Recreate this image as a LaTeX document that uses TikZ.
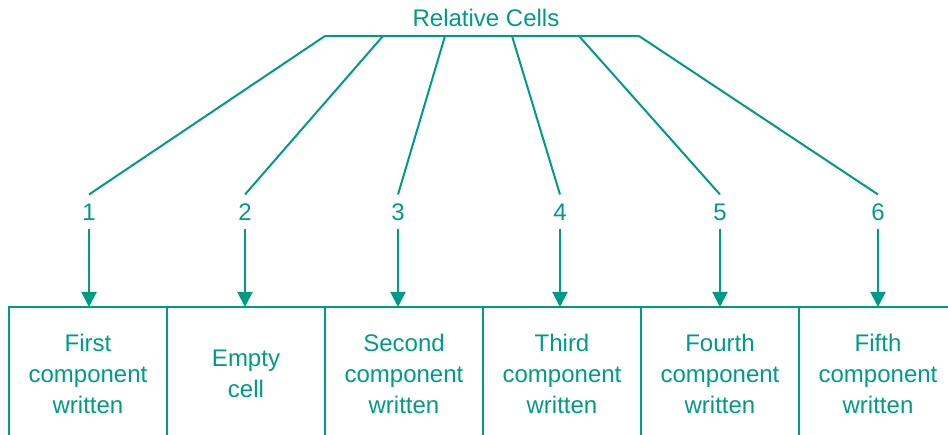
\documentclass[tikz,border=0pt]{standalone}
\usepackage{fontspec}
\setmainfont{Liberation Sans}
\usetikzlibrary{positioning,arrows.meta}
\definecolor{cellteal}{RGB}{0,155,133}
\begin{document}
\begin{tikzpicture}[x=1pt, y=1pt, node distance=0pt, cellteal, line width=2pt,
  cell/.style = {draw, line width=2.5pt, outer sep=0pt, minimum width=158pt, minimum height=134pt, align=center, font=\fontsize{24}{31}\selectfont},
  num/.style = {font=\fontsize{24}{29}\selectfont, inner sep=8pt, text height=17pt, text depth=0pt}]
\useasboundingbox (0,0) rectangle (948,435);
\clip (0,0) rectangle (948,435);
\node[cell] (c1) at (88,61) {First\\component\\written};
\node[cell] (c2) [right=of c1] {Empty\\cell};
\node[cell] (c3) [right=of c2] {Second\\component\\written};
\node[cell] (c4) [right=of c3] {Third\\component\\written};
\node[cell] (c5) [right=of c4] {Fourth\\component\\written};
\node[cell] (c6) [right=of c5] {Fifth\\component\\written};
\node[num] (title) at (486,417) {Relative Cells};
\node[num] (n1) at (89,223) {1};
\node[num] (n2) at (245,223) {2};
\node[num] (n3) at (398,223) {3};
\node[num] (n4) at (560,223) {4};
\node[num] (n5) at (720,223) {5};
\node[num] (n6) at (878,223) {6};
\coordinate (t1) at (325,399);
\coordinate (t2) at (383,399);
\coordinate (t3) at (445,399);
\coordinate (t4) at (512,399);
\coordinate (t5) at (579,399);
\coordinate (t6) at (639,399);
\draw (t1) -- (t6);
\draw (t1) -- (n1.north);
\draw (t2) -- (n2.north);
\draw (t3) -- (n3.north);
\draw (t4) -- (n4.north);
\draw (t5) -- (n5.north);
\draw (t6) -- (n6.north);
\draw[-{Triangle[width=15pt,length=15pt]}] (n1) -- (n1 |- c1.north);
\draw[-{Triangle[width=15pt,length=15pt]}] (n2) -- (n2 |- c2.north);
\draw[-{Triangle[width=15pt,length=15pt]}] (n3) -- (n3 |- c3.north);
\draw[-{Triangle[width=15pt,length=15pt]}] (n4) -- (n4 |- c4.north);
\draw[-{Triangle[width=15pt,length=15pt]}] (n5) -- (n5 |- c5.north);
\draw[-{Triangle[width=15pt,length=15pt]}] (n6) -- (n6 |- c6.north);
\end{tikzpicture}
\end{document}
